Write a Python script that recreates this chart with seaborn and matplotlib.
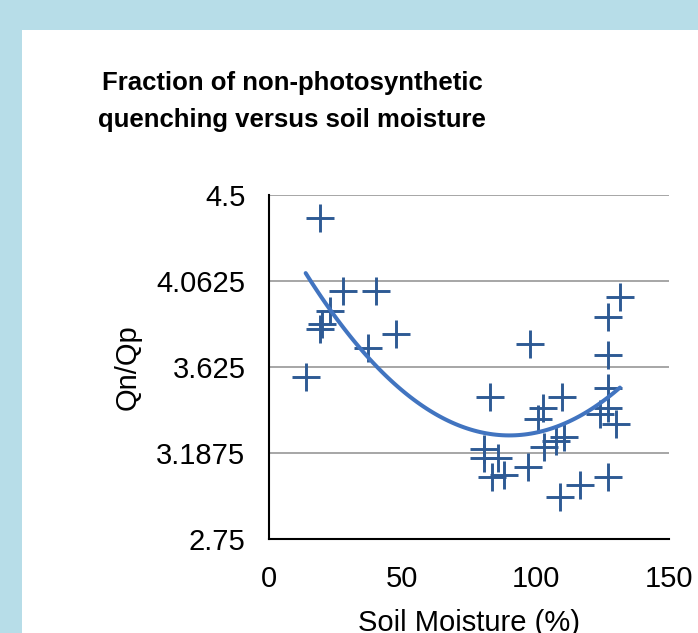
import matplotlib
matplotlib.use("Agg")
import matplotlib.pyplot as plt
import seaborn as sns
import pandas as pd
from matplotlib.patches import Rectangle

# ---- data ----
soil_moisture = [13.75, 19.1, 27.9, 40.0, 22.9, 19.7, 19.1, 47.5, 37.0,
                 82.9, 109.8, 102.9, 100.9, 127.0, 124.1, 127.0, 130.0,
                 110.6, 107.6, 103.1, 80.6, 80.6, 85.7, 83.6, 88.0, 97.1,
                 127.0, 116.6, 109.1, 131.6, 127.0, 127.0, 97.9]
qn_qp = [3.576, 4.381, 4.013, 4.013, 3.911, 3.844, 3.818, 3.791, 3.720,
         3.474, 3.474, 3.415, 3.361, 3.517, 3.385, 3.415, 3.333,
         3.271, 3.250, 3.220, 3.208, 3.160, 3.160, 3.067, 3.076, 3.118,
         3.067, 3.025, 2.965, 3.983, 3.881, 3.686, 3.740]
x_ticks = [0, 50, 100, 150]
y_ticks = [2.75, 3.1875, 3.625, 4.0625, 4.5]
y_tick_labels = ["2.75", "3.1875", "3.625", "4.0625", "4.5"]

title_lines = ["Fraction of non-photosynthetic",
               "quenching versus soil moisture"]
x_label = "Soil Moisture (%)"
y_label = "Qn/Qp"

df = pd.DataFrame({"moisture": soil_moisture, "ratio": qn_qp})

sns.set_theme(style="white")
plt.rcParams["font.family"] = ["Liberation Sans", "DejaVu Sans"]

W, H = 698, 633
fig = plt.figure(figsize=(W / 100, H / 100), dpi=100)
fig.patch.set_facecolor("#B7DDE8")
# white chart panel
fig.add_artist(Rectangle((22 / W, 0), 1 - 22 / W, 1 - 30 / H,
                         transform=fig.transFigure, facecolor="white",
                         edgecolor="none", zorder=0))

ax = fig.add_axes([269 / W, 1 - 539 / H, 400 / W, 344 / H])
ax.set_facecolor("none")

marker_color = "#2E5A94"
line_color = "#4174C0"

sns.scatterplot(data=df, x="moisture", y="ratio", marker="+", s=400,
                color=marker_color, linewidth=2.1, ax=ax, zorder=3,
                legend=False)
sns.regplot(data=df, x="moisture", y="ratio", order=2, ci=None,
            scatter=False, truncate=True, ax=ax,
            line_kws={"color": line_color, "lw": 2.9, "zorder": 4,
                      "solid_capstyle": "round"})

ax.set_xlim(0, 150)
ax.set_ylim(2.75, 4.5)
ax.set_xticks(x_ticks)
ax.set_xticklabels([str(t) for t in x_ticks])
ax.set_yticks(y_ticks)
ax.set_yticklabels(y_tick_labels)

ax.grid(False)
ax.yaxis.grid(True, color="#A6A6A6", linewidth=1.4, zorder=1)
ax.set_axisbelow(True)
for side in ["top", "right"]:
    ax.spines[side].set_visible(False)
for side in ["left", "bottom"]:
    ax.spines[side].set_color("black")
    ax.spines[side].set_linewidth(1.5)

ax.tick_params(axis="both", length=0, labelsize=21, colors="black")
ax.tick_params(axis="x", pad=19)
ax.tick_params(axis="y", pad=17)

ax.set_xlabel(x_label, fontsize=21, color="black")
ax.set_ylabel(y_label, fontsize=21, color="black")
ax.xaxis.set_label_coords(0.5, -0.203)
ax.yaxis.set_label_coords(-0.318, 0.5)

fig.text(292 / W, 1 - 83 / H, title_lines[0], ha="center", va="center",
         fontsize=18.5, fontweight="bold", color="black")
fig.text(292 / W, 1 - 120 / H, title_lines[1], ha="center", va="center",
         fontsize=18.5, fontweight="bold", color="black")

fig.savefig("out.png", dpi=100, facecolor=fig.get_facecolor())
